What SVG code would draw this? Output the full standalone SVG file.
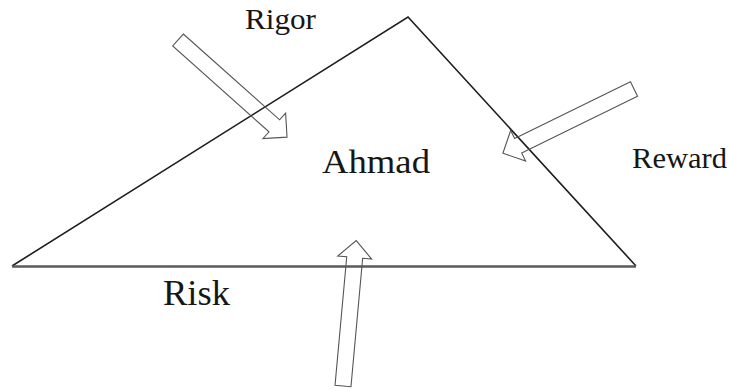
<svg xmlns="http://www.w3.org/2000/svg" width="731" height="389" viewBox="0 0 731 389">
  <style>
    .side { fill: none; stroke: #1e1e1e; stroke-width: 1.6; stroke-linejoin: miter; }
    .base { stroke: #5a5a5a; stroke-width: 2.6; }
    .arrow { fill: none; stroke: #555; stroke-width: 1.1; stroke-linejoin: miter; }
    .label { font-family: "Liberation Serif", "Times New Roman", serif; fill: #161616; }
  </style>
  <defs>
    <!-- block arrow pointing along +x, tail at origin, length 146 -->
    <polygon id="blockArrow" points="0,-8 129,-8 129,-17 146,0 129,17 129,8 0,8"/>
  </defs>

  <g id="triangle">
    <polyline class="side" points="12,266 408,17 636,266"/>
    <line class="base" x1="12" y1="266.5" x2="636" y2="266.5"/>
  </g>

  <g id="connectors">
    <use href="#blockArrow" class="arrow" transform="translate(178,40) rotate(41.7)"/>
    <use href="#blockArrow" class="arrow" transform="translate(634,89) rotate(153.9)"/>
    <use href="#blockArrow" class="arrow" transform="translate(343,386) rotate(-84.8)"/>
  </g>

  <g id="rigor">
    <text class="label" x="245" y="29" font-size="29" textLength="71" lengthAdjust="spacingAndGlyphs">Rigor</text>
  </g>
  <g id="ahmad">
    <text class="label" x="322" y="173" font-size="33" textLength="108" lengthAdjust="spacingAndGlyphs">Ahmad</text>
  </g>
  <g id="reward">
    <text class="label" x="632" y="168" font-size="30" textLength="95" lengthAdjust="spacingAndGlyphs">Reward</text>
  </g>
  <g id="risk">
    <text class="label" x="163" y="305" font-size="35" textLength="67" lengthAdjust="spacingAndGlyphs">Risk</text>
  </g>
</svg>
